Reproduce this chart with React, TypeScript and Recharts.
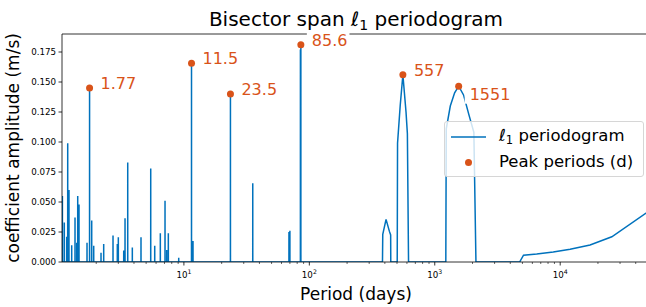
import { ComposedChart, Line, Scatter, XAxis, YAxis, LabelList, ReferenceLine } from 'recharts';

// narrow spikes of the l1 periodogram (period in days, amplitude in m/s)
const spikePeriods = [
  1.075, 1.113, 1.163, 1.185, 1.213, 1.275, 1.355, 1.398, 1.424, 1.458, 1.689, 1.77, 1.841, 1.91,
  2.184, 2.294, 2.722, 2.946, 3.001, 3.313, 3.394, 3.566, 3.88, 4.55, 5.439, 5.853, 6.488, 7.072,
  7.296, 7.514, 9.093, 11.5, 11.82, 23.5, 35.4, 68.8, 70.0, 84.9, 85.6,
];
const spikeAmps = [
  0.055, 0.033, 0.021, 0.099, 0.06, 0.014, 0.037, 0.016, 0.055, 0.048, 0.016, 0.145, 0.0345, 0.0136,
  0.0078, 0.015, 0.022, 0.015, 0.0206, 0.0095, 0.0365, 0.083, 0.012, 0.0206, 0.078, 0.0136, 0.024, 0.051,
  0.01, 0.024, 0.0035, 0.1656, 0.0175, 0.14, 0.0656, 0.025, 0.026, 0.177, 0.181,
];

// broad features at long periods
const broadPeriods = [
  1.067,
  383, 385, 409, 435, 445, 446,
  502, 505, 530, 557, 590, 605, 618,
  1225, 1235, 1330, 1440, 1551, 1700, 1880, 2050, 2130,
  4750, 5100, 6500, 8800, 12000, 17300, 25800, 52000,
];
const broadAmps = [
  0,
  0, 0.023, 0.0355, 0.0255, 0.0225, 0,
  0, 0.099, 0.13, 0.156, 0.125, 0.107, 0,
  0, 0.111, 0.13, 0.141, 0.1465, 0.139, 0.122, 0.108, 0,
  0, 0.0057, 0.0066, 0.0083, 0.0106, 0.0142, 0.021, 0.043,
];

const peakPeriods = [1.77, 11.5, 23.5, 85.6, 557, 1551];
const peakAmps = [0.145, 0.1656, 0.14, 0.181, 0.156, 0.1465];
const peakLabels = ['1.77', '11.5', '23.5', '85.6', '557', '1551'];

const yTicks = [0, 0.025, 0.05, 0.075, 0.1, 0.125, 0.15, 0.175];
const majorTicks = [10, 100, 1000, 10000];
const minorTicks = [
  2, 3, 4, 5, 6, 7, 8, 9, 20, 30, 40, 50, 60, 70, 80, 90, 200, 300, 400, 500, 600, 700, 800, 900,
  2000, 3000, 4000, 5000, 6000, 7000, 8000, 9000, 20000, 30000, 40000, 50000,
];

const BLUE = '#0072bd';
const ORANGE = '#d95319';
const FONT = 'DejaVu Sans';
const Y_MAX = 0.19;

const lineData = (() => {
  const pts: { p: number; a: number }[] = [];
  spikePeriods.forEach((p, i) => {
    pts.push({ p: p * 0.9995, a: 0 }, { p, a: spikeAmps[i] }, { p: p * 1.0005, a: 0 });
  });
  broadPeriods.forEach((p, i) => pts.push({ p, a: broadAmps[i] }));
  return pts.sort((u, v) => u.p - v.p);
})();

const peakData = peakPeriods.map((p, i) => ({ p, a: peakAmps[i], label: peakLabels[i] }));

// labels that sit below their dot
const labelBelow = ['1551'];

const XTick = (props: any) => {
  const { x, y, payload } = props;
  const v = payload.value;
  const major = majorTicks.includes(v);
  return (
    <g>
      <line x1={x} x2={x} y1={y} y2={y + (major ? 3.5 : 2)} stroke="#000" strokeWidth={major ? 0.8 : 0.6} />
      {major && (
        <text x={x} y={y + 16} textAnchor="middle" fontSize={8.7} fontFamily={FONT} fill="#000">
          10<tspan dy={-4} fontSize={6.2}>{Math.round(Math.log10(v))}</tspan>
        </text>
      )}
    </g>
  );
};

const YTick = (props: any) => {
  const { x, y, payload } = props;
  return (
    <g>
      <line x1={x - 3.5} x2={x} y1={y} y2={y} stroke="#000" strokeWidth={0.8} />
      <text x={x - 6} y={y} dy={3} textAnchor="end" fontSize={8.7} fontFamily={FONT} fill="#000">
        {payload.value.toFixed(3)}
      </text>
    </g>
  );
};

const PeakLabel = (props: any) => {
  const { x, y, width, height, value } = props;
  const cx = x + width / 2;
  const cy = y + height / 2;
  const below = labelBelow.includes(value);
  const base = below ? cy + 13.5 : cy + 1;
  const w = value.length * 9.4 - (value.includes('.') ? 5 : 0);
  return (
    <g>
      <rect x={cx + 6} y={base - 16} width={w + 10} height={20} fill="#fff" />
      <text x={cx + 11} y={base} fontSize={16} fontFamily={FONT} fill={ORANGE}>
        {value}
      </text>
    </g>
  );
};

export default function App() {
  return (
    <div style={{ position: 'absolute', left: 0, top: 0, width: 646, height: 307, overflow: 'hidden', background: '#fff' }}>
      <ComposedChart width={660} height={307} margin={{ top: 34, right: 10, bottom: 0, left: 0 }}>
        <XAxis
          dataKey="p"
          type="number"
          scale="log"
          domain={[1.067, 52000]}
          allowDataOverflow
          ticks={[...majorTicks, ...minorTicks].sort((a, b) => a - b)}
          interval={0}
          tick={<XTick />}
          tickLine={false}
          tickSize={0}
          tickMargin={0}
          height={45}
          axisLine={{ stroke: '#000', strokeWidth: 0.8 }}
        />
        <YAxis
          type="number"
          domain={[0, Y_MAX]}
          allowDataOverflow
          ticks={yTicks}
          interval={0}
          tick={<YTick />}
          tickLine={false}
          tickSize={0}
          tickMargin={0}
          width={62}
          axisLine={{ stroke: '#000', strokeWidth: 0.8 }}
        />
        <ReferenceLine y={Y_MAX} stroke="#000" strokeWidth={0.8} />
        <Line
          data={lineData}
          dataKey="a"
          type="linear"
          stroke={BLUE}
          strokeWidth={1.5}
          dot={false}
          activeDot={false}
          isAnimationActive={false}
        />
        <Scatter
          data={peakData}
          dataKey="a"
          fill={ORANGE}
          shape={(p: any) => <circle cx={p.cx} cy={p.cy} r={3.5} fill={ORANGE} />}
          isAnimationActive={false}
        >
          <LabelList dataKey="label" content={<PeakLabel />} />
        </Scatter>
      </ComposedChart>

      <svg width={646} height={307} style={{ position: 'absolute', left: 0, top: 0, pointerEvents: 'none' }}>
        <text x={356} y={26} textAnchor="middle" fontSize={20} fontFamily={FONT} fill="#000">
          Bisector span ℓ<tspan dy={4} fontSize={14}>1</tspan>
          <tspan dy={-4}> periodogram</tspan>
        </text>
        <text x={356} y={300} textAnchor="middle" fontSize={17} fontFamily={FONT} fill="#000">
          Period (days)
        </text>
        <text
          x={0}
          y={0}
          transform="translate(19,148) rotate(-90)"
          textAnchor="middle"
          fontSize={17}
          fontFamily={FONT}
          fill="#000"
        >
          coefficient amplitude (m/s)
        </text>
      </svg>

      <div
        style={{
          position: 'absolute',
          left: 444,
          top: 121,
          width: 200,
          height: 56,
          boxSizing: 'border-box',
          border: '1px solid #d6d6d6',
          borderRadius: 3,
          background: 'rgba(255,255,255,0.8)',
          fontFamily: FONT,
          fontSize: 16.5,
          color: '#000',
        }}
      >
        <svg width={50} height={56} style={{ position: 'absolute', left: 0, top: 0 }}>
          <line x1={6} x2={41} y1={15} y2={15} stroke={BLUE} strokeWidth={1.5} />
          <circle cx={23.5} cy={40.5} r={3.5} fill={ORANGE} />
        </svg>
        <div style={{ position: 'absolute', left: 54, top: 4, lineHeight: '20px', whiteSpace: 'nowrap' }}>
          ℓ<sub style={{ fontSize: '70%', verticalAlign: '-3px' }}>1</sub> periodogram
        </div>
        <div style={{ position: 'absolute', left: 54, top: 30, lineHeight: '20px', whiteSpace: 'nowrap' }}>
          Peak periods (d)
        </div>
      </div>
    </div>
  );
}
